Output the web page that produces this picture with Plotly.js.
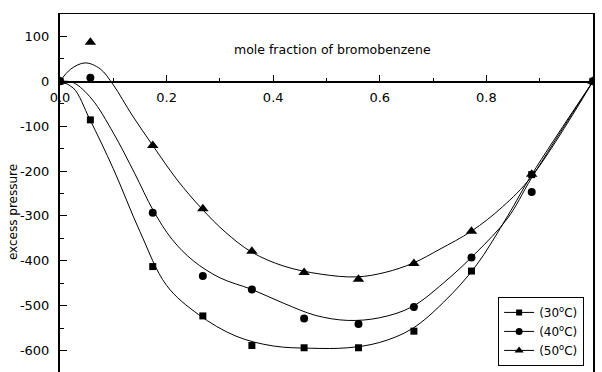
<!DOCTYPE html>
<html>
<head>
<meta charset="utf-8">
<script src="https://cdn.plot.ly/plotly-3.0.1.min.js"></script>
<style>
  html, body { margin: 0; padding: 0; background: #fff; }
  #chart { width: 602px; height: 372px; }
</style>
</head>
<body>
<div id="chart"></div>
<script>
// Measured excess pressure against mole fraction of bromobenzene
const moleFraction = [0, 0.057, 0.174, 0.268, 0.360, 0.458, 0.560, 0.664, 0.772, 0.885, 1.0];
const p30 = [0, -86, -413, -523, -589, -594, -594, -557, -423, -208, 0];
const p40 = [0, 8, -293, -434, -464, -529, -541, -503, -393, -247, 0];
const p50 = [0, 87, -143, -284, -379, -426, -441, -406, -334, -207, 0];

// Fitted curves, sampled along the mole fraction axis
const fit30x = [0, 0.025, 0.056, 0.10, 0.15, 0.20, 0.26, 0.33, 0.40, 0.47, 0.54, 0.60, 0.66, 0.72, 0.78, 0.84, 0.885, 1.0];
const fit30y = [0, -15, -85, -195, -335, -455, -520, -568, -590, -595, -594, -582, -552, -492, -412, -300, -208, 0];

const fit40x = [0, 0.025, 0.06, 0.10, 0.14, 0.175, 0.21, 0.25, 0.30, 0.36, 0.42, 0.48, 0.54, 0.60, 0.66, 0.72, 0.78, 0.84, 0.885, 1.0];
const fit40y = [0, -3, -40, -115, -205, -288, -352, -400, -438, -464, -495, -522, -533, -527, -503, -449, -383, -305, -215, 0];

const fit50x = [0, 0.02, 0.047, 0.075, 0.10, 0.135, 0.174, 0.22, 0.266, 0.31, 0.36, 0.42, 0.49, 0.557, 0.61, 0.663, 0.713, 0.772, 0.83, 0.885, 1.0];
const fit50y = [0, 27, 41, 28, -8, -75, -143, -220, -284, -336, -381, -412, -430, -436, -426, -405, -374, -334, -280, -212, 0];

// Axis ticks
const xTickVals = [0, 0.2, 0.4, 0.6, 0.8, 1.0];
const xTickText = ['0.0', '0.2', '0.4', '0.6', '0.8', '1.0'];
const xMinorVals = [0.1, 0.3, 0.5, 0.7, 0.9];
const yTickVals = [-600, -500, -400, -300, -200, -100, 0, 100];
const yTickText = ['-600', '-500', '-400', '-300', '-200', '-100', '0', '100'];
const yMinorVals = [-650, -550, -450, -350, -250, -150, -50, 50];

const seriesNames = ['(30<sup>o</sup>C)', '(40<sup>o</sup>C)', '(50<sup>o</sup>C)'];
const symbols = ['square', 'circle', 'triangle-up'];
const symbolSizes = [7, 8, 10];
const legendSymbolSizes = [6, 7, 8];

const ink = '#000000';
const lineStyle = { color: ink, width: 1, shape: 'spline', smoothing: 1 };

const traces = [];

// curves
[[fit30x, fit30y], [fit40x, fit40y], [fit50x, fit50y]].forEach(function (c) {
  traces.push({
    type: 'scatter', mode: 'lines', x: c[0], y: c[1],
    line: lineStyle, showlegend: false, hoverinfo: 'skip'
  });
});

// measured points (50 first so the 30 squares sit on top)
[[p50, 2], [p40, 1], [p30, 0]].forEach(function (s) {
  traces.push({
    type: 'scatter', mode: 'markers', x: moleFraction, y: s[0],
    marker: { symbol: symbols[s[1]], size: symbolSizes[s[1]], color: ink },
    showlegend: false, hoverinfo: 'skip'
  });
});

// legend entries, drawn against the zero-crossing axis
[0, 1, 2].forEach(function (i) {
  traces.push({
    type: 'scatter', mode: 'lines+markers', x: [null], y: [null],
    xaxis: 'x2', yaxis: 'y',
    name: seriesNames[i],
    line: { color: ink, width: 1 },
    marker: { symbol: symbols[i], size: legendSymbolSizes[i], color: ink },
    hoverinfo: 'skip'
  });
});

const tickFont = { family: 'DejaVu Sans, sans-serif', size: 13, color: ink };

const yRange = [-648, 150];
const zeroPos = (0 - yRange[0]) / (yRange[1] - yRange[0]);

const layout = {
  width: 602, height: 372,
  margin: { l: 60, r: 9, t: 14, b: 0, pad: 0, autoexpand: false },
  paper_bgcolor: '#ffffff', plot_bgcolor: '#ffffff',
  showlegend: true,
  legend: {
    x: 0.822, y: 0.017, xanchor: 'left', yanchor: 'bottom',
    bordercolor: ink, borderwidth: 1, bgcolor: '#ffffff',
    font: { family: 'DejaVu Sans, sans-serif', size: 12, color: ink },
    itemwidth: 30, tracegroupgap: 0
  },
  xaxis: {
    range: [0, 1], side: 'top', showline: true, linecolor: ink, linewidth: 1,
    showgrid: false, zeroline: false, showticklabels: false, ticks: '',
    automargin: false
  },
  xaxis2: {
    range: [0, 1], overlaying: 'x', anchor: 'free', position: zeroPos, side: 'bottom',
    showline: true, linecolor: ink, linewidth: 1.6,
    showgrid: false, zeroline: false, automargin: false,
    tickmode: 'array', tickvals: xTickVals, ticktext: xTickText,
    ticks: 'inside', ticklen: 6, tickwidth: 1, tickcolor: ink,
    tickfont: tickFont, ticklabelstandoff: 4,
    minor: { tickmode: 'array', tickvals: xMinorVals, ticks: 'inside', ticklen: 3, tickwidth: 1, tickcolor: ink, showgrid: false }
  },
  yaxis: {
    range: yRange, showline: true, mirror: true, linecolor: ink, linewidth: 2,
    showgrid: false, zeroline: false, automargin: false,
    tickmode: 'array', tickvals: yTickVals, ticktext: yTickText,
    ticks: 'inside', ticklen: 7, tickwidth: 1, tickcolor: ink,
    tickfont: tickFont, ticklabelstandoff: 6,
    minor: { tickmode: 'array', tickvals: yMinorVals, ticks: 'inside', ticklen: 4, tickwidth: 1, tickcolor: ink, showgrid: false }
  },
  annotations: [
    {
      text: 'mole fraction of bromobenzene', xref: 'paper', yref: 'paper',
      x: 0.512, y: 0.901, xanchor: 'center', yanchor: 'middle', showarrow: false,
      font: { family: 'DejaVu Sans, sans-serif', size: 12.5, color: ink }
    },
    {
      text: 'excess pressure', xref: 'paper', yref: 'paper',
      x: -0.088, y: 0.447, xanchor: 'center', yanchor: 'middle', showarrow: false,
      textangle: -90,
      font: { family: 'DejaVu Sans, sans-serif', size: 12, color: ink }
    }
  ]
};

Plotly.newPlot('chart', traces, layout, { staticPlot: true, displayModeBar: false });
</script>
</body>
</html>
